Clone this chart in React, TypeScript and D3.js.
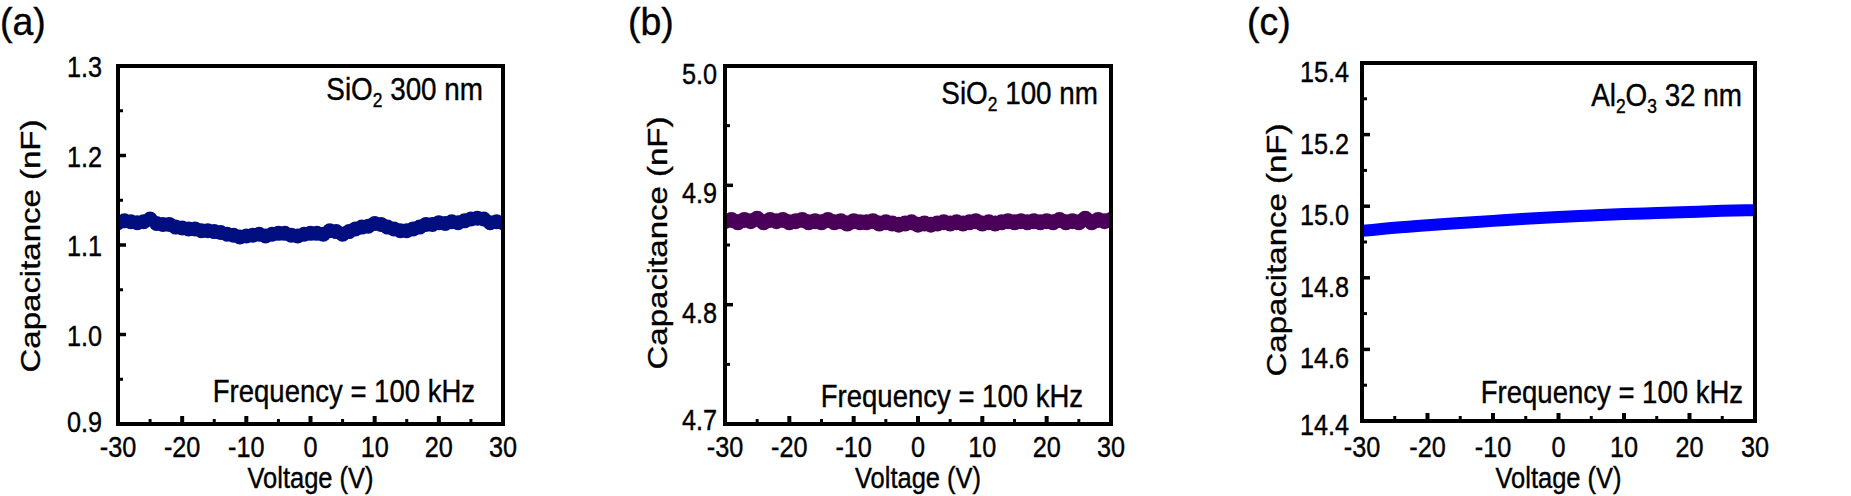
import React from "react";
import * as d3 from "d3";

// Gate voltage sweep (V), 1 V steps
const VOLTAGE_SWEEP = [
  -30, -29, -28, -27, -26, -25, -24, -23, -22, -21, -20, -19, -18, -17, -16,
  -15, -14, -13, -12, -11, -10, -9, -8, -7, -6, -5, -4, -3, -2, -1, 0, 1, 2,
  3, 4, 5, 6, 7, 8, 9, 10, 11, 12, 13, 14, 15, 16, 17, 18, 19, 20, 21, 22, 23,
  24, 25, 26, 27, 28, 29, 30,
];

// Capacitance (nF), SiO2 300 nm
const CAP_SIO2_300 = [
  1.125, 1.127, 1.126, 1.125, 1.126, 1.129, 1.124, 1.123, 1.123, 1.12, 1.119,
  1.118, 1.118, 1.116, 1.116, 1.115, 1.114, 1.112, 1.111, 1.109, 1.11, 1.111,
  1.112, 1.11, 1.112, 1.113, 1.113, 1.111, 1.11, 1.112, 1.113, 1.113, 1.112,
  1.116, 1.115, 1.112, 1.115, 1.118, 1.12, 1.121, 1.124, 1.123, 1.12, 1.118,
  1.116, 1.116, 1.118, 1.12, 1.123, 1.123, 1.125, 1.124, 1.126, 1.125, 1.127,
  1.129, 1.13, 1.129, 1.125, 1.126, 1.125,
];

// Capacitance (nF), SiO2 100 nm
const CAP_SIO2_100 = [
  4.87, 4.871, 4.869, 4.871, 4.87, 4.872, 4.869, 4.871, 4.87, 4.871, 4.869,
  4.87, 4.871, 4.869, 4.87, 4.869, 4.871, 4.869, 4.87, 4.868, 4.87,
  4.869, 4.869, 4.87, 4.868, 4.869, 4.868, 4.867, 4.868, 4.869, 4.867,
  4.868, 4.867, 4.868, 4.869, 4.868, 4.869, 4.868, 4.869, 4.87, 4.868,
  4.869, 4.868, 4.869, 4.87, 4.869, 4.87, 4.869, 4.87, 4.869, 4.87,
  4.869, 4.871, 4.869, 4.87, 4.869, 4.872, 4.869, 4.871, 4.87, 4.871,
];

// Al2O3 32 nm, 5 V steps
const VOLTAGE_COARSE = [-30, -25, -20, -15, -10, -5, 0, 5, 10, 15, 20, 25, 30];
const CAP_AL2O3_32 = [
  14.931, 14.94, 14.947, 14.953, 14.959, 14.965, 14.97, 14.974, 14.978, 14.981,
  14.984, 14.987, 14.989,
];

const X_TICKS = [-30, -20, -10, 0, 10, 20, 30];
const X_MINOR = [-25, -15, -5, 5, 15, 25];

const Y_TICKS_A = [0.9, 1.0, 1.1, 1.2, 1.3];
const Y_MINOR_A = [0.95, 1.05, 1.15, 1.25];
const Y_TICKS_B = [4.7, 4.8, 4.9, 5.0];
const Y_MINOR_B = [4.75, 4.85, 4.95];
const Y_TICKS_C = [14.4, 14.6, 14.8, 15.0, 15.2, 15.4];
const Y_MINOR_C = [14.5, 14.7, 14.9, 15.1, 15.3];

const FONT = "'Liberation Sans', Arial, Helvetica, sans-serif";

type Pt = { v: number; c: number };

const zip = (xs: number[], ys: number[]): Pt[] =>
  xs.map((v, i) => ({ v, c: ys[i] }));

// Text squeezed a little horizontally, like the exported figure
const Label: React.FC<{
  x: number;
  y: number;
  size: number;
  anchor?: "start" | "middle" | "end";
  sx?: number;
  vertical?: boolean;
  children: React.ReactNode;
}> = ({ x, y, size, anchor = "start", sx = 0.9, vertical = false, children }) => (
  <text
    transform={
      vertical
        ? `translate(${x},${y}) rotate(-90) scale(1,${sx})`
        : `translate(${x},${y}) scale(${sx},1)`
    }
    fontSize={size}
    fontFamily={FONT}
    textAnchor={anchor}
    fill="#000"
    stroke="#000"
    strokeWidth={0.4}
  >
    {children}
  </text>
);

interface PanelProps {
  id: string;
  tag: string;
  tagX: number;
  box: { l: number; r: number; t: number; b: number };
  yDomain: [number, number];
  yTicks: number[];
  yMinor: number[];
  tickLabelRight: number;
  tickShift: number;
  bottomShift: number;
  yTitleX: number;
  yTitleY: number;
  material: React.ReactNode;
  materialY: number;
  materialRight: number;
  freqRight: number;
  freqY: number;
  data: Pt[];
  color: string;
  kind: "dots" | "line";
  radius?: number;
}

const Panel: React.FC<PanelProps> = (p) => {
  const { l, r, t, b } = p.box;
  const x = d3.scaleLinear().domain([-30, 30]).range([l, r]);
  const y = d3.scaleLinear().domain(p.yDomain).range([b, t]);
  const clipId = `clip-${p.id}`;
  const line = d3
    .line<Pt>()
    .x((d) => x(d.v))
    .y((d) => y(d.c))
    .curve(d3.curveMonotoneX);

  return (
    <g>
      <defs>
        <clipPath id={clipId}>
          <rect x={l} y={t} width={r - l} height={b - t} />
        </clipPath>
      </defs>

      <Label x={p.tagX} y={35} size={39} sx={0.96}>
        {p.tag}
      </Label>

      {/* measured curve */}
      <g clipPath={`url(#${clipId})`}>
        {p.kind === "dots" ? (
          p.data.map((d, i) => (
            <circle
              key={i}
              cx={x(d.v)}
              cy={y(d.c)}
              r={p.radius}
              fill={p.color}
            />
          ))
        ) : (
          <path
            d={line(p.data) || ""}
            fill="none"
            stroke={p.color}
            strokeWidth={12}
          />
        )}
      </g>

      {/* frame */}
      <rect
        x={l}
        y={t}
        width={r - l}
        height={b - t}
        fill="none"
        stroke="#000"
        strokeWidth={4}
      />

      {/* ticks, pointing inwards */}
      {p.yTicks.map((v) => (
        <line key={`ym${v}`} x1={l} x2={l + 8} y1={y(v)} y2={y(v)} stroke="#000" strokeWidth={3.5} />
      ))}
      {p.yMinor.map((v) => (
        <line key={`yn${v}`} x1={l} x2={l + 5} y1={y(v)} y2={y(v)} stroke="#000" strokeWidth={3} />
      ))}
      {X_TICKS.map((v) => (
        <line key={`xm${v}`} x1={x(v)} x2={x(v)} y1={b} y2={b - 8} stroke="#000" strokeWidth={4} />
      ))}
      {X_MINOR.map((v) => (
        <line key={`xn${v}`} x1={x(v)} x2={x(v)} y1={b} y2={b - 5} stroke="#000" strokeWidth={3} />
      ))}

      {/* tick labels */}
      {p.yTicks.map((v) => (
        <Label
          key={`yl${v}`}
          x={p.tickLabelRight}
          y={y(v) + 10 + (v === p.yDomain[0] ? p.bottomShift : p.tickShift)}
          size={29}
          sx={0.87}
          anchor="end"
        >
          {d3.format(".1f")(v)}
        </Label>
      ))}
      {X_TICKS.map((v) => (
        <Label key={`xl${v}`} x={x(v)} y={457} size={29} sx={0.87} anchor="middle">
          {String(v)}
        </Label>
      ))}

      {/* axis titles */}
      <Label x={(l + r) / 2} y={488} size={30} sx={0.85} anchor="middle">
        Voltage (V)
      </Label>
      <Label x={p.yTitleX} y={p.yTitleY} size={33} sx={0.82} anchor="middle" vertical>
        Capacitance (nF)
      </Label>

      {/* annotations */}
      <Label x={p.materialRight} y={p.materialY} size={32} sx={0.87} anchor="end">
        {p.material}
      </Label>
      <Label x={p.freqRight} y={p.freqY} size={32} sx={0.86} anchor="end">
        Frequency = 100 kHz
      </Label>
    </g>
  );
};

// chemical formula with subscripted counts, e.g. [["Al","2"],["O","3"]]
const formula = (parts: [string, string][], rest: string) => (
  <>
    {parts.map(([el, n], i) => (
      <React.Fragment key={i}>
        <tspan dy={i === 0 ? 0 : -7}>{el}</tspan>
        <tspan dy={7} fontSize={20}>
          {n}
        </tspan>
      </React.Fragment>
    ))}
    <tspan dy={-7}>{rest}</tspan>
  </>
);

export default function App() {
  return (
    <svg
      width={1851}
      height={496}
      style={{ position: "absolute", left: 0, top: 0, background: "#fff" }}
    >
      <rect width={1851} height={496} fill="#fff" />
      <Panel
        id="a"
        tag="(a)"
        tagX={0}
        box={{ l: 118, r: 503, t: 66, b: 424 }}
        yDomain={[0.9, 1.3]}
        yTicks={Y_TICKS_A}
        yMinor={Y_MINOR_A}
        tickLabelRight={102}
        tickShift={1}
        bottomShift={-2}
        yTitleX={40}
        yTitleY={246}
        material={formula([["SiO", "2"]], " 300 nm")}
        materialRight={483}
        materialY={100}
        freqRight={475}
        freqY={402}
        data={zip(VOLTAGE_SWEEP, CAP_SIO2_300)}
        color="#000e80"
        kind="dots"
        radius={7.5}
      />
      <Panel
        id="b"
        tag="(b)"
        tagX={628}
        box={{ l: 725, r: 1111, t: 66, b: 424 }}
        yDomain={[4.7, 5.0]}
        yTicks={Y_TICKS_B}
        yMinor={Y_MINOR_B}
        tickLabelRight={717}
        tickShift={8}
        bottomShift={-4}
        yTitleX={667}
        yTitleY={243}
        material={formula([["SiO", "2"]], " 100 nm")}
        materialRight={1098}
        materialY={104}
        freqRight={1083}
        freqY={407}
        data={zip(VOLTAGE_SWEEP, CAP_SIO2_100)}
        color="#4a0059"
        kind="dots"
        radius={8}
      />
      <Panel
        id="c"
        tag="(c)"
        tagX={1247}
        box={{ l: 1362, r: 1755, t: 63, b: 421 }}
        yDomain={[14.4, 15.4]}
        yTicks={Y_TICKS_C}
        yMinor={Y_MINOR_C}
        tickLabelRight={1349}
        tickShift={9}
        bottomShift={4}
        yTitleX={1286}
        yTitleY={250}
        material={formula(
          [
            ["Al", "2"],
            ["O", "3"],
          ],
          " 32 nm"
        )}
        materialRight={1742}
        materialY={106}
        freqRight={1743}
        freqY={403}
        data={zip(VOLTAGE_COARSE, CAP_AL2O3_32)}
        color="#0000ff"
        kind="line"
      />
    </svg>
  );
}
